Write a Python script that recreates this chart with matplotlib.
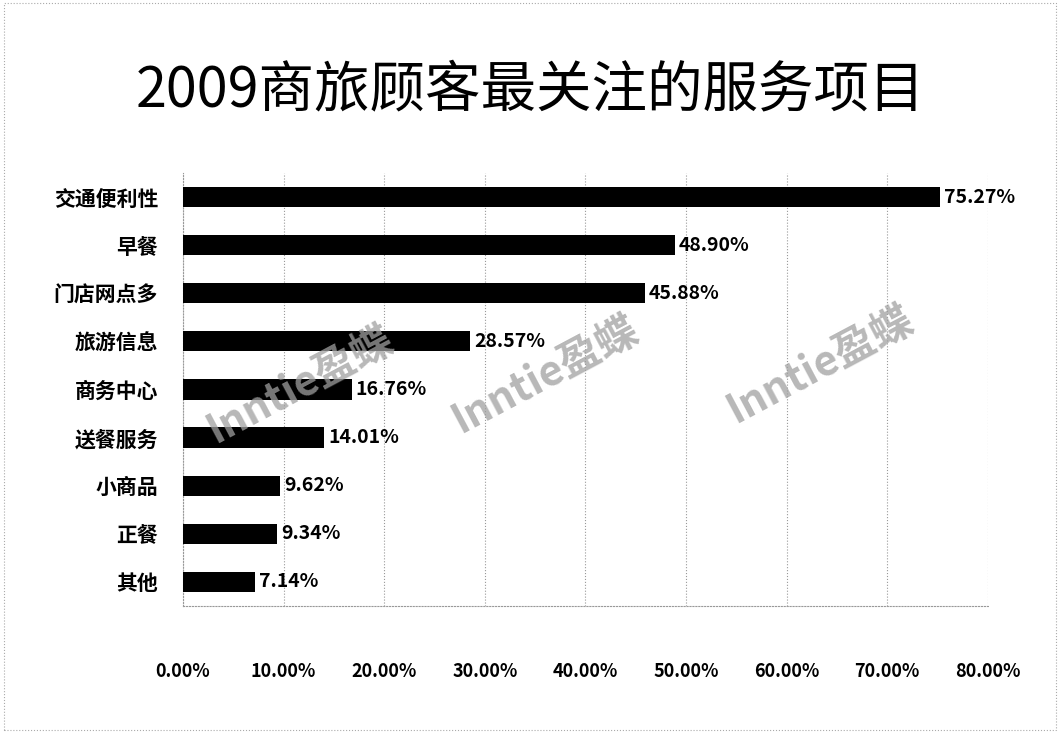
import matplotlib.pyplot as plt
import numpy as np

plt.rcParams['font.family'] = ['Noto Sans CJK SC', 'DejaVu Sans']

# %% data
categories = ['交通便利性', '早餐', '门店网点多', '旅游信息', '商务中心',
              '送餐服务', '小商品', '正餐', '其他']
values = [75.27, 48.90, 45.88, 28.57, 16.76, 14.01, 9.62, 9.34, 7.14]
xticks = [0, 10, 20, 30, 40, 50, 60, 70, 80]
xtick_labels = ['%.2f%%' % v for v in xticks]

# %% plot
fig = plt.figure(figsize=(10.6, 7.33), dpi=100)
ax = fig.add_axes([0.1726, 0.1733, 0.7594, 0.5907])

y = np.arange(len(categories))
ax.barh(y, values, height=0.42, color='black', zorder=3)
for yi, v in zip(y, values):
    ax.text(v + 0.4, yi, '%.2f%%' % v, va='center', ha='left',
            fontsize=14, fontweight='bold', zorder=4)

ax.set_xlim(0, 80)
ax.set_ylim(8.5, -0.5)
ax.set_yticks(y)
ax.set_yticklabels(categories, fontsize=15, fontweight='bold')
ax.set_xticks(xticks)
ax.set_xticklabels(xtick_labels, fontsize=13, fontweight='bold')
ax.tick_params(axis='x', length=0, pad=40)
ax.tick_params(axis='y', length=0, pad=18)

ax.grid(axis='x', linestyle=':', color='#999999', linewidth=0.8, zorder=0)
for side in ['top', 'right']:
    ax.spines[side].set_visible(False)
ax.spines['left'].set_linestyle(':')
ax.spines['left'].set_color('#999999')
ax.spines['bottom'].set_linestyle(':')
ax.spines['bottom'].set_color('#999999')

fig.text(0.5, 0.877, '2009商旅顾客最关注的服务项目', ha='center', va='center',
         fontsize=40)

# watermarks
for wx, wy in [(0.283, 0.475), (0.514, 0.488), (0.774, 0.502)]:
    fig.text(wx, wy, 'Inntie盈蝶', ha='center', va='center', rotation=28,
             fontsize=30, fontweight='bold', style='italic', color='#a0a0a0',
             alpha=0.75, zorder=5)

# outer dotted border
fig.patches.append(plt.Rectangle((0.004, 0.004), 0.992, 0.992,
                                 transform=fig.transFigure, fill=False,
                                 linestyle=':', edgecolor='#aaaaaa',
                                 linewidth=0.8))

fig.savefig('out.png', dpi=100)
